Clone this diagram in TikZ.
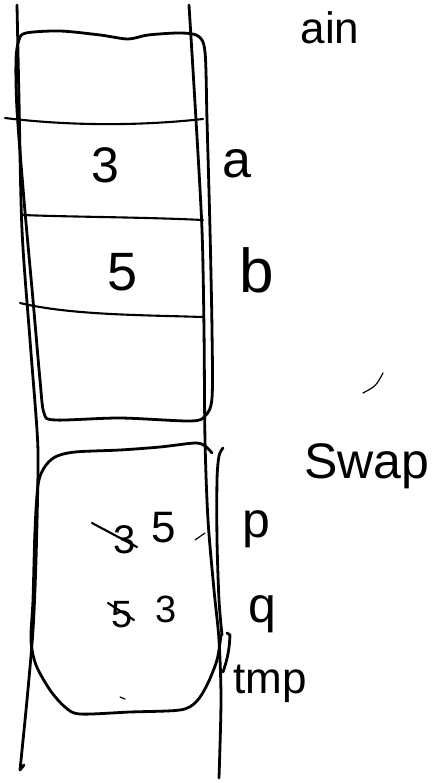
\documentclass[tikz,border=0pt]{standalone}
\usepackage{fontspec}
\setmainfont{Liberation Sans}
\usetikzlibrary{calc}
\tikzset{
  pen/.style={line width=2.8pt, line cap=round, line join=round},
  thinpen/.style={line width=2.1pt, line cap=round, line join=round},
  hairpen/.style={line width=1.2pt, line cap=round},
  hand/.style={inner sep=0pt, anchor=base, font=\fontsize{#1}{#1}\selectfont},
  hand/.default=44
}

\begin{document}
\begin{tikzpicture}[x=1pt, y=-1pt]
  \useasboundingbox (0,0) rectangle (436,783);
  \clip (0,0) rectangle (436,783);

  %%the two walls of the stack
  \draw[pen] plot[smooth] coordinates {(17,5) (19,100) (22,230) (30,340) (37,430)
      (38,470) (36,560) (33,630) (27,700) (20,770)} -- (24,765);
  \draw[pen] plot[smooth] coordinates {(189,5) (196,120) (202,230) (204,330) (205,440)
      (208,520) (214,590) (219,640) (221,700) (219,778)};

  %%frame of main
  \draw[pen] plot[smooth cycle] coordinates {(26,33) (60,31) (100,35) (128,39) (148,35)
      (180,33) (198,36) (205,52) (207,120) (210,230) (212,330) (212,398) (205,416)
      (190,421) (120,418) (55,420) (44,413) (40,380) (33,300) (24,200) (17,110)
      (16,60) (19,40)};
  % slots
  \foreach \xa/\ya/\ym/\yb in {5/118/126/119, 23/215/217/220, 20/303/315/317} {
      \draw[thinpen] (\xa,\ya) .. controls (70,\ym) and (140,\ym) .. (203,\yb);
      }

  %%frame of swap
  \draw[pen] plot[smooth] coordinates {(212,453) (205,446) (195,443) (160,447) (120,450)
      (75,452) (55,457) (44,468) (38,485) (35,530) (33,600) (31,640) (36,665) (50,690)
      (65,707) (80,714) (130,712) (180,710) (196,702) (207,685) (217,660) (221,635)};
  % braces for p, q and tmp
  \draw[pen] plot[smooth] coordinates {(223,448) (219,456) (217,480) (217,540)
      (219,600) (222,635)};
  \draw[pen] (227,633) -- (230,635) to[bend left=8] (223,672);

  %%values
  \node[hand=50] (va) at (105,183) {3};
  \node[hand=54] (vb) at (123,290) {5};
  \node[hand=40] (vpold) at (125,553) {3};
  \node[hand=44] (vp) at (164,542) {5};
  \node[hand=38] (vqold) at (122,627) {5};
  \node[hand=38] (vq) at (166,622) {3};
  \draw[thinpen] (92,523) -- (137,547);
  \draw[thinpen] (108,603) -- (134,620);

  %%names
  \node[hand=52] (na) at (237,178) {a};
  \node[hand=62] (nb) at (257,292) {b};
  \node[hand=50] (np) at (256,537) {p};
  \node[hand=50] (nq) at (262,622) {q};
  \node[hand=44] (ntmp) at (270,693) {tmp};
  \node[hand=50] (nswap) at (367,478) {Swap};
  \node[hand=44] (nmain) at (330,44) {ain};

  %%stray marks
  \draw[hairpen] (195,540) -- (205,533);
  \draw[hairpen] (363,393) .. controls (376,386) .. (383,373);
  \draw[hairpen] (120,697) -- (125,699);
\end{tikzpicture}
\end{document}
